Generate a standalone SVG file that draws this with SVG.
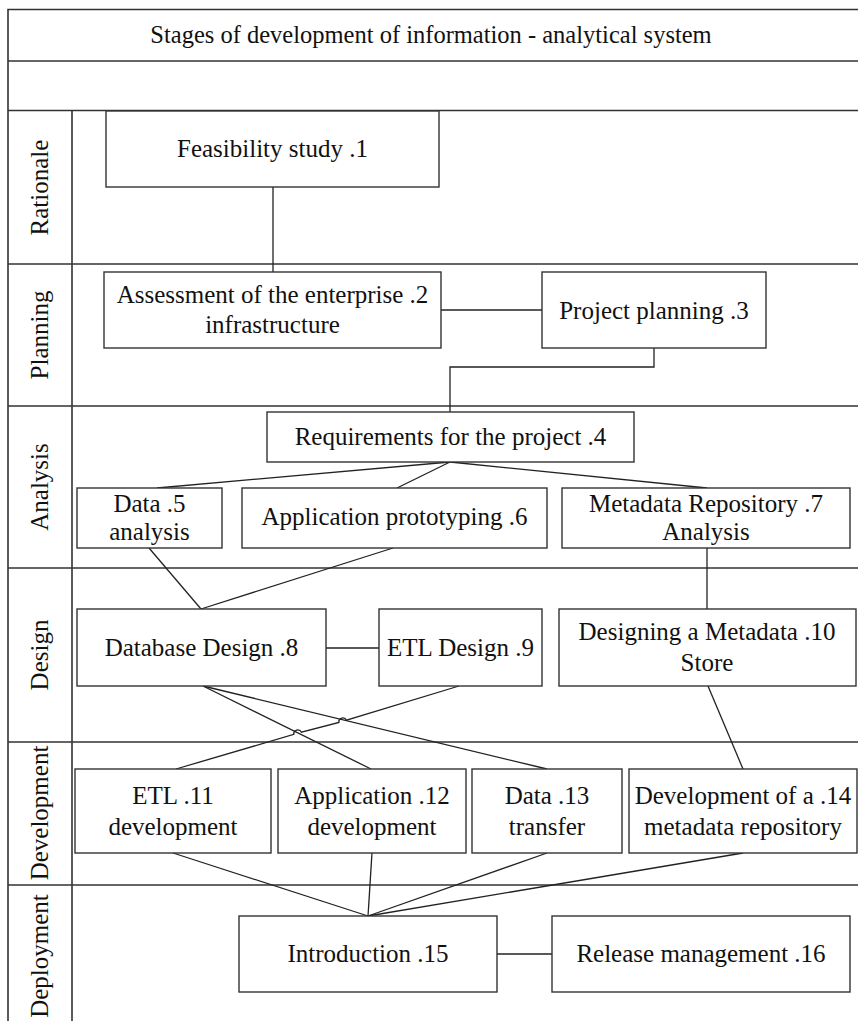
<svg xmlns="http://www.w3.org/2000/svg" width="858" height="1021" viewBox="0 0 858 1021">
<style>
.frame{fill:none;stroke:#333;stroke-width:1.6}
.box{fill:#fff;stroke:#333;stroke-width:1.4}
.conn{fill:none;stroke:#222;stroke-width:1.3}
text{font-family:"Liberation Serif","Times New Roman",serif;font-size:25px;fill:#111;text-anchor:middle}
.title{font-size:24.5px}
</style>
<rect width="858" height="1021" fill="#fff"/>
<g id="frame">
<path class="frame" d="M8,1030 V9.5 H870 M8,61 H870 M8,110.5 H870 M8,264 H870 M8,406 H870 M8,568 H870 M8,742 H870 M8,885 H870 M72,110.5 V1030"/>
<text class="title" x="431" y="43">Stages of development of information - analytical system</text>
</g>
<g id="lanes">
<text transform="translate(48,187.5) rotate(-90)">Rationale</text>
<text transform="translate(48,335) rotate(-90)">Planning</text>
<text transform="translate(48,487) rotate(-90)">Analysis</text>
<text transform="translate(48,655) rotate(-90)">Design</text>
<text transform="translate(48,813) rotate(-90)">Development</text>
<text transform="translate(48,956) rotate(-90)">Deployment</text>
</g>
<g id="connectors">
<path class="conn" d="M273,187 V272"/>
<path class="conn" d="M441,310 H542"/>
<path class="conn" d="M654,348 V367 H450 V412"/>
<path class="conn" d="M450,462 L157,488"/>
<path class="conn" d="M450,462 L397,488"/>
<path class="conn" d="M450,462 L707,488"/>
<path class="conn" d="M149,548 L201,609"/>
<path class="conn" d="M393,548 L201,609"/>
<path class="conn" d="M707,548 V609"/>
<path class="conn" d="M326,648 H379"/>
<path class="conn" d="M203,686 L371,769"/>
<path class="conn" d="M203,686 L547,769"/>
<path class="conn" d="M459,686 L346.5,720.2 A4,4 0 0 0 338.9,722.4 L301.4,732.2 A4,4 0 0 0 293.8,734.4 L176,769"/>
<path class="conn" d="M708,686 L743,769"/>
<path class="conn" d="M173,853 L368,916"/>
<path class="conn" d="M372,853 L368,916"/>
<path class="conn" d="M547,853 L368,916"/>
<path class="conn" d="M743,853 L368,916"/>
<path class="conn" d="M497,954 H552"/>
</g>
<g id="n1"><rect class="box" x="106" y="111" width="333" height="76"/><text x="272.5" y="157">Feasibility study .1</text></g>
<g id="n2"><rect class="box" x="104" y="272" width="337" height="76"/><text x="272.5" y="302.5">Assessment of the enterprise .2</text><text x="272.5" y="333">infrastructure</text></g>
<g id="n3"><rect class="box" x="542" y="272" width="224" height="76"/><text x="654" y="319">Project planning .3</text></g>
<g id="n4"><rect class="box" x="267" y="412" width="367" height="50"/><text x="450.5" y="445">Requirements for the project .4</text></g>
<g id="n5"><rect class="box" x="77" y="488" width="145" height="60"/><text x="149.5" y="512">Data .5</text><text x="149.5" y="540">analysis</text></g>
<g id="n6"><rect class="box" x="242" y="488" width="305" height="60"/><text x="394.5" y="525">Application prototyping .6</text></g>
<g id="n7"><rect class="box" x="562" y="488" width="288" height="60"/><text x="706" y="512">Metadata Repository .7</text><text x="706" y="540">Analysis</text></g>
<g id="n8"><rect class="box" x="77" y="609" width="249" height="77"/><text x="201.5" y="656">Database Design .8</text></g>
<g id="n9"><rect class="box" x="379" y="609" width="163" height="77"/><text x="460.5" y="656">ETL Design .9</text></g>
<g id="n10"><rect class="box" x="559" y="609" width="297" height="77"/><text x="707" y="640">Designing a Metadata .10</text><text x="707" y="670.5">Store</text></g>
<g id="n11"><rect class="box" x="75" y="769" width="196" height="84"/><text x="173" y="804">ETL .11</text><text x="173" y="835">development</text></g>
<g id="n12"><rect class="box" x="278" y="769" width="188" height="84"/><text x="372" y="804">Application .12</text><text x="372" y="835">development</text></g>
<g id="n13"><rect class="box" x="472" y="769" width="150" height="84"/><text x="547" y="804">Data .13</text><text x="547" y="835">transfer</text></g>
<g id="n14"><rect class="box" x="629" y="769" width="228" height="84"/><text x="743" y="804">Development of a .14</text><text x="743" y="835">metadata repository</text></g>
<g id="n15"><rect class="box" x="239" y="916" width="258" height="76"/><text x="368" y="962">Introduction .15</text></g>
<g id="n16"><rect class="box" x="552" y="916" width="298" height="76"/><text x="701" y="962">Release management .16</text></g>
</svg>
